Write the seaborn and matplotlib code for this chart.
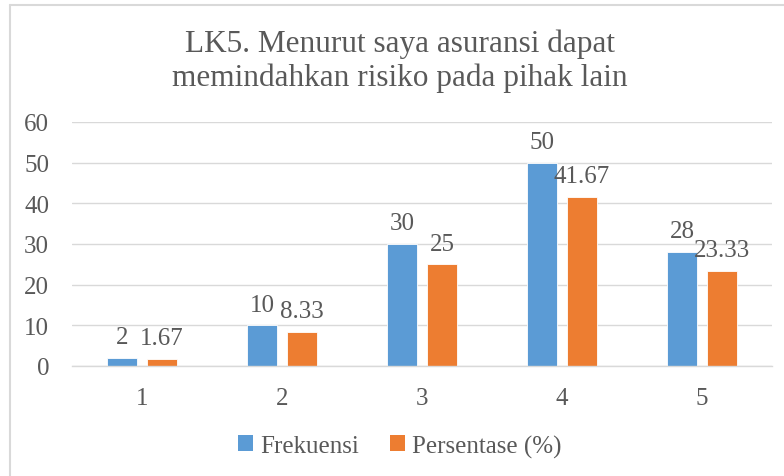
import numpy as np
import pandas as pd
import matplotlib.pyplot as plt
import seaborn as sns
from matplotlib.lines import Line2D
from matplotlib.patches import Patch

# ====== DATA ======
categories = ["1", "2", "3", "4", "5"]
frekuensi = [2, 10, 30, 50, 28]
persentase = [1.67, 8.33, 25, 41.67, 23.33]
series_names = ["Frekuensi", "Persentase (%)"]
label_frek = ["2", "10", "30", "50", "28"]
label_pers = ["1.67", "8.33", "25", "41.67", "23.33"]
title = "LK5. Menurut saya asuransi dapat\nmemindahkan risiko pada pihak lain"

colors = ["#5B9BD5", "#ED7D31"]
text_color = "#595959"
grid_color = "#D9D9D9"

df = pd.DataFrame({
    "kategori": categories * 2,
    "nilai": frekuensi + persentase,
    "seri": [series_names[0]] * 5 + [series_names[1]] * 5,
})

sns.set_theme(style="white")
plt.rcParams["font.family"] = ["Liberation Serif", "DejaVu Serif"]

fig = plt.figure(figsize=(7.84, 4.77), dpi=100)
ax = fig.add_axes([72 / 784, 1 - 367 / 477, 700 / 784, 244 / 477])

sns.barplot(data=df, x="kategori", y="nilai", hue="seri", palette=colors,
            width=0.571, gap=0.226, ax=ax, legend=False, saturation=1,
            edgecolor="white", linewidth=0.6)

ax.set_xlim(-0.5, 4.5)
ax.set_ylim(0, 60)
ax.set_yticks(np.arange(0, 61, 10))
ax.yaxis.grid(True, color=grid_color, linewidth=1)
ax.set_axisbelow(True)
for s in ["top", "right", "left"]:
    ax.spines[s].set_visible(False)
ax.spines["bottom"].set_color(grid_color)
ax.spines["bottom"].set_linewidth(1)
ax.set_xlabel("")
ax.set_ylabel("")
ax.tick_params(axis="both", length=0, labelsize=18, colors=text_color)
ax.tick_params(axis="x", pad=15)
ax.tick_params(axis="y", pad=16.5)

# label angka di atas batang
for container, labels in zip(ax.containers, [label_frek, label_pers]):
    ax.bar_label(container, labels=labels, padding=7, fontsize=18, color=text_color)

fig.text(0.51, 1 - 61 / 477, title, ha="center", va="center", fontsize=22.5,
         color=text_color, linespacing=1.2)

handles = [Patch(facecolor=c, edgecolor="none") for c in colors]
fig.legend(handles, series_names, loc="center", bbox_to_anchor=(0.51, 1 - 447 / 477),
           ncol=2, frameon=False, fontsize=18, labelcolor=text_color,
           handlelength=0.6, handleheight=0.6, handletextpad=0.3, columnspacing=1.2)

# border chart (hanya tepi kiri dan atas yang terlihat)
fig.add_artist(Line2D([10 / 784, 10 / 784], [0, 1 - 6 / 477], color=grid_color,
                      linewidth=1.5, transform=fig.transFigure))
fig.add_artist(Line2D([10 / 784, 1], [1 - 6 / 477, 1 - 6 / 477], color=grid_color,
                      linewidth=1.5, transform=fig.transFigure))

fig.savefig("out.png", dpi=100)
